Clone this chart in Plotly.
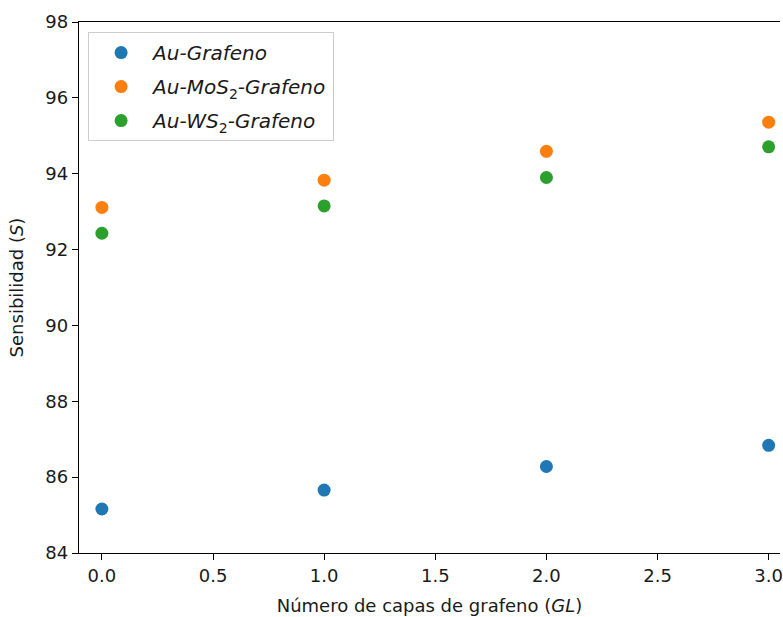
import plotly.graph_objects as go

# Sensitivity vs. number of graphene layers for three sensor stacks
capas = [0, 1, 2, 3]
au_grafeno = [85.16, 85.66, 86.28, 86.84]
au_mos2_grafeno = [93.11, 93.83, 94.59, 95.36]
au_ws2_grafeno = [92.43, 93.15, 93.90, 94.71]

series = [
    ("<i>Au-Grafeno</i>", au_grafeno, "#1f77b4"),
    ("<i>Au-MoS</i><sub>2</sub><i>-Grafeno</i>", au_mos2_grafeno, "#ff7f0e"),
    ("<i>Au-WS</i><sub>2</sub><i>-Grafeno</i>", au_ws2_grafeno, "#2ca02c"),
]

fig = go.Figure()
for i, (name, vals, color) in enumerate(series):
    fig.add_trace(go.Scatter(
        x=capas, y=vals, mode="markers", name=name, legendgroup=f"g{i}",
        marker=dict(color=color, size=13, line=dict(width=0)),
    ))

axis_common = dict(
    showgrid=False, zeroline=False, showline=True, linecolor="black",
    linewidth=1.3, ticks="outside", ticklen=6, tickwidth=1.3,
    tickcolor="black", tickfont=dict(size=18, color="#1a1a1a"),
)

fig.update_layout(
    width=783, height=617,
    margin=dict(l=79, r=0, t=22, b=64),
    paper_bgcolor="white", plot_bgcolor="white",
    font=dict(family="DejaVu Sans", color="#1a1a1a"),
    xaxis=dict(
        range=[-0.103, 3.051], tickvals=[0, 0.5, 1, 1.5, 2, 2.5, 3],
        ticktext=["0.0", "0.5", "1.0", "1.5", "2.0", "2.5", "3.0"],
        ticklabeloverflow="allow", mirror=True,
        title=dict(text="Número de capas de grafeno (<i>GL</i>)",
                   font=dict(size=18), standoff=14),
        **axis_common,
    ),
    yaxis=dict(
        range=[84, 98], tickvals=[84, 86, 88, 90, 92, 94, 96, 98],
        title=dict(text="Sensibilidad (<i>S</i>)", font=dict(size=18),
                   standoff=17),
        **axis_common,
    ),
    legend=dict(
        x=0.013, y=0.981, xanchor="left", yanchor="top",
        bgcolor="rgba(255,255,255,0.8)", bordercolor="#cccccc",
        borderwidth=1, font=dict(size=20, color="#1a1a1a"),
        itemwidth=54, tracegroupgap=5,
    ),
)

fig.write_html("out.html")
